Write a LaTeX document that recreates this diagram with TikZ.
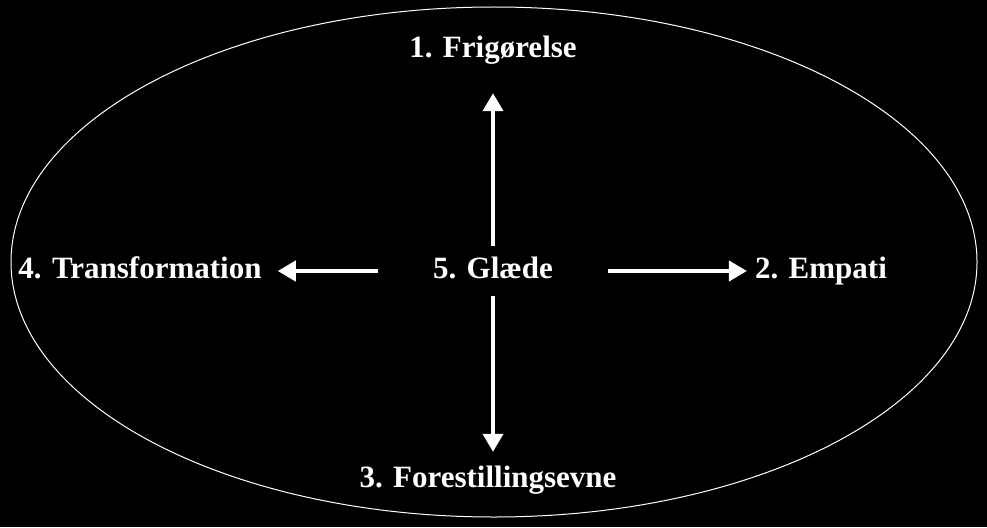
\documentclass[tikz,border=0pt]{standalone}
\usepackage{fontspec}
\setmainfont{Liberation Serif}
\usetikzlibrary{arrows.meta}
\tikzset{
  lbl/.style={text=white, font=\bfseries\fontsize{31}{37}\selectfont, inner sep=0pt, text height=21pt, text depth=7pt, anchor=base},
  arr/.style={draw=white, line width=4pt, -{Triangle[width=20pt,length=18pt]}},
}
\begin{document}
\begin{tikzpicture}[x=1pt,y=-1pt]
\fill[black] (0,0) rectangle (987,527);
\useasboundingbox (0,0) rectangle (987,527);
\draw[white, line width=1pt] (494,262) ellipse [x radius=483, y radius=255];
\node[lbl] (f) at (493,58) {1. Frigørelse};
\node[lbl, inner xsep=55pt, inner ysep=11pt] (g) at (493,278) {5. Glæde};
\node[lbl] (t) at (140,278) {4. Transformation};
\node[lbl] (e) at (821,278) {2. Empati};
\node[lbl] (s) at (488,487) {3. Forestillingsevne};
\draw[arr, shorten >=28pt] (g.north) -- (f.south);
\draw[arr, shorten >=14pt] (g.south) -- (s.north -| g.south);
\draw[arr, shorten >=16pt] (g.west) -- (t.east |- g.west);
\draw[arr, shorten >=8pt] (g.east) -- (e.west |- g.east);
\end{tikzpicture}
\end{document}
